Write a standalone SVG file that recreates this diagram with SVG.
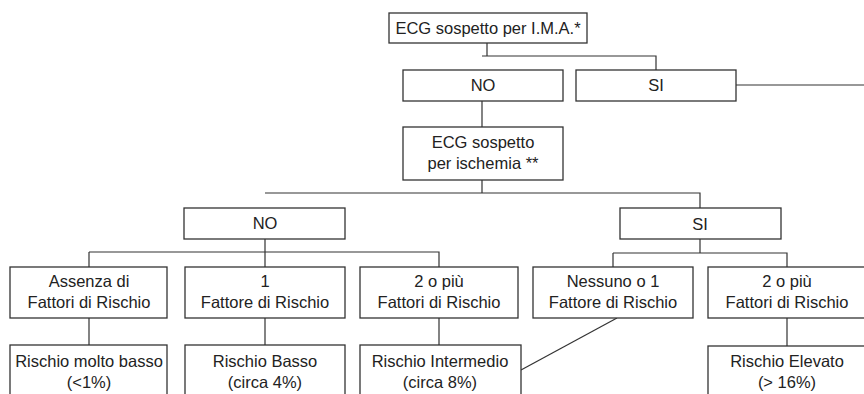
<svg xmlns="http://www.w3.org/2000/svg" width="864" height="394" viewBox="0 0 864 394">
<style>
.b{fill:#fff;stroke:#333;stroke-width:1.3}
.c{fill:none;stroke:#333;stroke-width:1.2}
text{font-family:"Liberation Sans",Arial,sans-serif;font-size:16.5px;fill:#222;text-anchor:middle}
</style>
<rect width="864" height="394" fill="#fff"/>
<g id="connectors">
<path class="c" d="M487 43V56M482 56H656V70M482 101V127"/>
<path class="c" d="M736 85H864"/>
<path class="c" d="M482 180V193M265 193H700V208"/>
<path class="c" d="M265 239V252M89 252H439V267M265 252V267M89 252V267"/>
<path class="c" d="M700 239V253M613 253H787V267M613 253V267"/>
<path class="c" d="M89 318V345M265 318V345M439 318V345M787 318V346"/>
<path class="c" d="M617 318L521 370"/>
</g>
<g id="n_ima"><rect class="b" x="389" y="13" width="198" height="30"/><text x="488" y="34">ECG sospetto per I.M.A.*</text></g>
<g id="n_no1"><rect class="b" x="403" y="70" width="160" height="31"/><text x="483" y="91">NO</text></g>
<g id="n_si1"><rect class="b" x="576" y="70" width="160" height="31"/><text x="656" y="91">SI</text></g>
<g id="n_isch"><rect class="b" x="403" y="127" width="160" height="53"/><text x="483" y="148">ECG sospetto</text><text x="483" y="169">per ischemia **</text></g>
<g id="n_no2"><rect class="b" x="184" y="208" width="161" height="31"/><text x="265" y="229">NO</text></g>
<g id="n_si2"><rect class="b" x="620" y="208" width="161" height="31"/><text x="700" y="230">SI</text></g>
<g id="n_assenza"><rect class="b" x="10" y="267" width="157" height="51"/><text x="89" y="287">Assenza di</text><text x="89" y="308">Fattori di Rischio</text></g>
<g id="n_uno"><rect class="b" x="185" y="267" width="160" height="51"/><text x="265" y="287">1</text><text x="265" y="308">Fattore di Rischio</text></g>
<g id="n_due"><rect class="b" x="360" y="267" width="158" height="51"/><text x="439" y="287">2 o più</text><text x="439" y="308">Fattori di Rischio</text></g>
<g id="n_nessuno"><rect class="b" x="533" y="267" width="160" height="51"/><text x="613" y="287">Nessuno o 1</text><text x="613" y="308">Fattore di Rischio</text></g>
<g id="n_due2"><rect class="b" x="708" y="267" width="160" height="51"/><text x="787" y="287">2 o più</text><text x="787" y="308">Fattori di Rischio</text></g>
<g id="n_mb"><rect class="b" x="10" y="345" width="157" height="60"/><text x="89" y="367">Rischio molto basso</text><text x="89" y="388">(&lt;1%)</text></g>
<g id="n_basso"><rect class="b" x="185" y="345" width="160" height="60"/><text x="265" y="367">Rischio Basso</text><text x="265" y="388">(circa 4%)</text></g>
<g id="n_int"><rect class="b" x="360" y="345" width="161" height="60"/><text x="440" y="367">Rischio Intermedio</text><text x="440" y="388">(circa 8%)</text></g>
<g id="n_elev"><rect class="b" x="708" y="346" width="160" height="60"/><text x="787" y="367">Rischio Elevato</text><text x="787" y="388">(&gt; 16%)</text></g>
</svg>
